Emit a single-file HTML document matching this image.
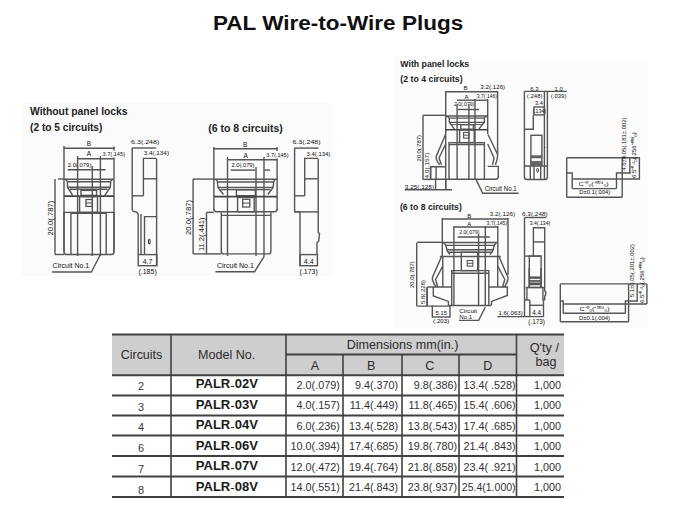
<!DOCTYPE html>
<html><head><meta charset="utf-8"><title>PAL Wire-to-Wire Plugs</title>
<style>
html,body{margin:0;padding:0;background:#fff;}
body{width:675px;height:506px;overflow:hidden;position:relative;font-family:"Liberation Sans",sans-serif;}
h1{position:absolute;left:213px;top:11px;margin:0;font-size:19.6px;line-height:24px;font-weight:700;color:#111;white-space:nowrap;transform-origin:0 0;transform:scaleX(1.149);letter-spacing:0;}
svg{position:absolute;left:0;top:0;}
svg text{font-family:"Liberation Sans",sans-serif;}
</style></head>
<body>
<svg width="675" height="506" viewBox="0 0 675 506">
<rect x="22" y="103" width="310" height="173" fill="#fbfbfb"/>
<rect x="395" y="57" width="253" height="271" fill="#fcfcfc"/>
<text x="30" y="114.7" font-size="10.2" font-weight="700" fill="#222" text-anchor="start" textLength="97.6" lengthAdjust="spacingAndGlyphs">Without panel locks</text>
<text x="30" y="131.3" font-size="10.2" font-weight="700" fill="#222" text-anchor="start" textLength="72.4" lengthAdjust="spacingAndGlyphs">(2 to 5 circuits)</text>
<line x1="63.7" y1="148.2" x2="114.3" y2="148.2" stroke="#555" stroke-width="1.4"/>
<text x="89" y="146.2" font-size="6.5" font-weight="400" fill="#111" text-anchor="middle">B</text>
<line x1="77.5" y1="158.7" x2="114.3" y2="158.7" stroke="#555" stroke-width="1.4"/>
<text x="89" y="156.4" font-size="6.5" font-weight="400" fill="#111" text-anchor="middle">A</text>
<text x="102.5" y="156.2" font-size="6.2" font-weight="400" fill="#111" text-anchor="start" textLength="22.5" lengthAdjust="spacingAndGlyphs">3.7(.145)</text>
<text x="67.7" y="166.6" font-size="6.2" font-weight="400" fill="#111" text-anchor="start" textLength="23.7" lengthAdjust="spacingAndGlyphs">2.0(.079)</text>
<line x1="67.7" y1="169.8" x2="105.6" y2="169.8" stroke="#555" stroke-width="1.4"/>
<line x1="64" y1="146" x2="64" y2="252" stroke="#555" stroke-width="1.4"/>
<line x1="114" y1="146.5" x2="114" y2="150.5" stroke="#555" stroke-width="1.4"/>
<line x1="114" y1="157.5" x2="114" y2="252" stroke="#555" stroke-width="1.4"/>
<line x1="77.6" y1="156" x2="77.6" y2="256" stroke="#555" stroke-width="1.4"/>
<line x1="92.3" y1="166" x2="92.3" y2="256" stroke="#555" stroke-width="1.4"/>
<line x1="100.4" y1="156" x2="100.4" y2="256" stroke="#555" stroke-width="1.4"/>
<line x1="58" y1="179" x2="64" y2="179" stroke="#555" stroke-width="1.4"/>
<line x1="64" y1="179.2" x2="114" y2="179.2" stroke="#555" stroke-width="1.4"/>
<path d="M64.9,179.3 Q67.2,180 67.4,182.1 L67.6,187.2 L72.7,195.4" stroke="#555" stroke-width="1.4" fill="none"/>
<path d="M113.1,179.3 Q110.8,180 110.6,182.1 L110.3,187.2 L104.8,195.4" stroke="#555" stroke-width="1.4" fill="none"/>
<line x1="67.2" y1="181.7" x2="110.8" y2="181.7" stroke="#555" stroke-width="1.4"/>
<line x1="67.6" y1="187.2" x2="110.3" y2="187.2" stroke="#555" stroke-width="1.4"/>
<line x1="70" y1="189.3" x2="107.5" y2="189.3" stroke="#555" stroke-width="1.4"/>
<rect x="81" y="190.4" width="15.6" height="5" rx="0" stroke="#555" stroke-width="1.4" fill="none"/>
<line x1="64" y1="196.1" x2="114" y2="196.1" stroke="#444" stroke-width="1.9"/>
<rect x="79.6" y="196.8" width="17.9" height="15.6" rx="0" stroke="#555" stroke-width="1.4" fill="none"/>
<rect x="86" y="199.5" width="6.4" height="6.9" rx="0" stroke="#555" stroke-width="1.3" fill="none"/>
<line x1="86" y1="203" x2="92.4" y2="203" stroke="#555" stroke-width="1.1"/>
<line x1="64" y1="212.4" x2="114" y2="212.4" stroke="#555" stroke-width="1.4"/>
<path d="M64,212 L64,252 Q64,254.5 66.5,254.5 L111.5,254.5 Q114,254.5 114,252 L114,212" stroke="#555" stroke-width="1.4" fill="none"/>
<path d="M70.9,254.5 L70.9,213.4 L106.2,213.4 L106.2,254.5" stroke="#555" stroke-width="1.4" fill="none"/>
<line x1="55" y1="179" x2="55" y2="254.5" stroke="#555" stroke-width="1.4"/>
<line x1="55" y1="254.5" x2="64" y2="254.5" stroke="#555" stroke-width="1.4"/>
<text x="53" y="235.6" font-size="6.5" font-weight="400" fill="#111" text-anchor="start" textLength="35" lengthAdjust="spacingAndGlyphs" transform="rotate(-90 53 235.6)">20.0(.787)</text>
<text x="52.6" y="268.2" font-size="6.8" font-weight="400" fill="#111" text-anchor="start" textLength="36.6" lengthAdjust="spacingAndGlyphs">Circuit No.1</text>
<path d="M51.9,272 L91.4,272 L100.4,254.5" stroke="#555" stroke-width="1.4" fill="none"/>
<text x="131.1" y="144" font-size="6.2" font-weight="400" fill="#111" text-anchor="start" textLength="28.2" lengthAdjust="spacingAndGlyphs">6.3(.248)</text>
<line x1="131.9" y1="148" x2="156.3" y2="148" stroke="#555" stroke-width="1.4"/>
<text x="143.7" y="155.2" font-size="6.2" font-weight="400" fill="#111" text-anchor="start" textLength="25.3" lengthAdjust="spacingAndGlyphs">3.4(.134)</text>
<path d="M132.2,148 L132.2,209.5 Q132.2,211.2 134,211.5 Q138.2,212 138.2,215 L138.2,254.6" stroke="#555" stroke-width="1.4" fill="none"/>
<line x1="132.2" y1="195.8" x2="143.4" y2="195.8" stroke="#555" stroke-width="1.4"/>
<path d="M143.4,195.8 L143.4,158.4 L156,158.4" stroke="#555" stroke-width="1.4" fill="none"/>
<line x1="143.4" y1="178.8" x2="156" y2="178.8" stroke="#555" stroke-width="1.4"/>
<line x1="156.6" y1="158.4" x2="156.6" y2="265.7" stroke="#555" stroke-width="1.4"/>
<line x1="141" y1="214" x2="141" y2="254.6" stroke="#555" stroke-width="1.4"/>
<path d="M144.5,254.6 L144.5,216.6 L156.6,216.6" stroke="#555" stroke-width="1.4" fill="none"/>
<ellipse cx="149.3" cy="241.5" rx="0.9" ry="2.3" fill="none" stroke="#333" stroke-width="1.1"/>
<rect x="138.2" y="254.6" width="18.7" height="11.1" rx="0" stroke="#555" stroke-width="1.4" fill="none"/>
<text x="147.6" y="263.6" font-size="7" font-weight="400" fill="#111" text-anchor="middle">4.7</text>
<text x="147.6" y="273.6" font-size="7" font-weight="400" fill="#111" text-anchor="middle">(.185)</text>
<text x="208.2" y="131.5" font-size="10.2" font-weight="700" fill="#222" text-anchor="start" textLength="74.6" lengthAdjust="spacingAndGlyphs">(6 to 8 circuits)</text>
<line x1="213" y1="148.8" x2="277.4" y2="148.8" stroke="#555" stroke-width="1.4"/>
<text x="245.1" y="146.6" font-size="6.5" font-weight="400" fill="#111" text-anchor="middle">B</text>
<line x1="227.8" y1="159.8" x2="277.4" y2="159.8" stroke="#555" stroke-width="1.4"/>
<text x="245.6" y="157.6" font-size="6.5" font-weight="400" fill="#111" text-anchor="middle">A</text>
<text x="266.3" y="156.6" font-size="6.2" font-weight="400" fill="#111" text-anchor="start" textLength="22.2" lengthAdjust="spacingAndGlyphs">3.7(.145)</text>
<text x="231.5" y="166.9" font-size="6.2" font-weight="400" fill="#111" text-anchor="start" textLength="22.9" lengthAdjust="spacingAndGlyphs">2.0(.079)</text>
<line x1="230.7" y1="170.1" x2="255.2" y2="170.1" stroke="#555" stroke-width="1.4"/>
<line x1="264" y1="170.1" x2="270" y2="170.1" stroke="#555" stroke-width="1.4"/>
<line x1="213.9" y1="147" x2="213.9" y2="210" stroke="#555" stroke-width="1.4"/>
<line x1="277.1" y1="147" x2="277.1" y2="151" stroke="#555" stroke-width="1.4"/>
<line x1="277.1" y1="158.5" x2="277.1" y2="210" stroke="#555" stroke-width="1.4"/>
<line x1="227.5" y1="157" x2="227.5" y2="256" stroke="#555" stroke-width="1.4"/>
<line x1="256" y1="167" x2="256" y2="256" stroke="#555" stroke-width="1.4"/>
<line x1="264" y1="157" x2="264" y2="256" stroke="#555" stroke-width="1.4"/>
<line x1="193" y1="179.1" x2="213.9" y2="179.1" stroke="#555" stroke-width="1.4"/>
<line x1="213.9" y1="179.2" x2="277.1" y2="179.2" stroke="#555" stroke-width="1.4"/>
<path d="M215.7,179.3 Q217.4,180 217.4,182 L218,187.4 L223.4,194.5" stroke="#555" stroke-width="1.4" fill="none"/>
<path d="M275.5,179.3 Q273.7,180 273.7,182 L273.1,187.4 L267.8,194.5" stroke="#555" stroke-width="1.4" fill="none"/>
<line x1="217.4" y1="182" x2="273.7" y2="182" stroke="#555" stroke-width="1.4"/>
<line x1="218" y1="187.4" x2="273.1" y2="187.4" stroke="#555" stroke-width="1.4"/>
<line x1="220.5" y1="189.5" x2="270.5" y2="189.5" stroke="#555" stroke-width="1.4"/>
<rect x="236.4" y="189.8" width="19" height="5.9" rx="0" stroke="#555" stroke-width="1.4" fill="none"/>
<line x1="213.9" y1="196.6" x2="277.1" y2="196.6" stroke="#444" stroke-width="1.9"/>
<rect x="237.6" y="197.5" width="16.6" height="14.2" rx="0" stroke="#555" stroke-width="1.4" fill="none"/>
<rect x="242.7" y="199.3" width="7.1" height="7.7" rx="0" stroke="#555" stroke-width="1.3" fill="none"/>
<line x1="242.7" y1="203.1" x2="249.8" y2="203.1" stroke="#555" stroke-width="1.1"/>
<path d="M213.9,209 Q213.9,211.7 216.5,211.7 L274.5,211.7 Q277.1,211.7 277.1,209" stroke="#555" stroke-width="1.4" fill="none"/>
<path d="M221.3,212.5 L221.3,251.5 Q221.3,253.9 223.7,253.9 L268.5,253.9 Q270.9,253.9 270.9,251.5 L270.9,212.5" stroke="#555" stroke-width="1.4" fill="none"/>
<line x1="221.3" y1="215.4" x2="270.9" y2="215.4" stroke="#555" stroke-width="1.4"/>
<line x1="193.1" y1="179" x2="193.1" y2="253.9" stroke="#555" stroke-width="1.4"/>
<line x1="193.1" y1="253.9" x2="221.3" y2="253.9" stroke="#555" stroke-width="1.4"/>
<line x1="206.5" y1="212.4" x2="206.5" y2="253.9" stroke="#555" stroke-width="1.4"/>
<line x1="206.5" y1="212.4" x2="213.9" y2="212.4" stroke="#555" stroke-width="1.4"/>
<text x="191.4" y="235" font-size="6.5" font-weight="400" fill="#111" text-anchor="start" textLength="35" lengthAdjust="spacingAndGlyphs" transform="rotate(-90 191.4 235)">20.0(.787)</text>
<text x="203.8" y="251" font-size="6.5" font-weight="400" fill="#111" text-anchor="start" textLength="33.5" lengthAdjust="spacingAndGlyphs" transform="rotate(-90 203.8 251)">11.2(.441)</text>
<text x="216.9" y="267.8" font-size="6.8" font-weight="400" fill="#111" text-anchor="start" textLength="37" lengthAdjust="spacingAndGlyphs">Circuit No.1</text>
<path d="M215.4,271.7 L254.6,271.7 L264.3,256.1" stroke="#555" stroke-width="1.4" fill="none"/>
<text x="292.4" y="144" font-size="6.2" font-weight="400" fill="#111" text-anchor="start" textLength="28.2" lengthAdjust="spacingAndGlyphs">6.3(.248)</text>
<line x1="294.2" y1="148.1" x2="318.4" y2="148.1" stroke="#555" stroke-width="1.4"/>
<text x="306.5" y="155.9" font-size="6.2" font-weight="400" fill="#111" text-anchor="start" textLength="23.8" lengthAdjust="spacingAndGlyphs">3.4(.134)</text>
<path d="M294.6,148 L294.6,211.9 L300,211.9 L300,265.7" stroke="#555" stroke-width="1.4" fill="none"/>
<line x1="294.6" y1="195.8" x2="304.7" y2="195.8" stroke="#555" stroke-width="1.4"/>
<path d="M304.7,195.8 L304.7,158.4 L317.9,158.4" stroke="#555" stroke-width="1.4" fill="none"/>
<line x1="304.7" y1="178.8" x2="317.9" y2="178.8" stroke="#555" stroke-width="1.4"/>
<line x1="294.6" y1="211.9" x2="318.5" y2="211.9" stroke="#555" stroke-width="1.4"/>
<path d="M318.2,158.4 L318.2,232.4 L319.5,233.5 L318.8,241 L317,242.7 L317,254.6" stroke="#555" stroke-width="1.4" fill="none"/>
<rect x="300" y="254.6" width="17.4" height="11.1" rx="0" stroke="#555" stroke-width="1.4" fill="none"/>
<text x="308.7" y="263.6" font-size="7" font-weight="400" fill="#111" text-anchor="middle">4.4</text>
<text x="308.7" y="273.6" font-size="7" font-weight="400" fill="#111" text-anchor="middle">(.173)</text>
<text x="400.3" y="67.4" font-size="8.8" font-weight="700" fill="#222" text-anchor="start" textLength="68.8" lengthAdjust="spacingAndGlyphs">With panel locks</text>
<text x="400.3" y="81.8" font-size="8.8" font-weight="700" fill="#222" text-anchor="start" textLength="62.3" lengthAdjust="spacingAndGlyphs">(2 to 4 circuits)</text>
<line x1="445.3" y1="91.8" x2="497.5" y2="91.8" stroke="#555" stroke-width="1.4"/>
<text x="465.4" y="90.2" font-size="6" font-weight="400" fill="#111" text-anchor="middle">B</text>
<text x="480.3" y="89.4" font-size="6" font-weight="400" fill="#111" text-anchor="start" textLength="24.9" lengthAdjust="spacingAndGlyphs">3.2(.126)</text>
<line x1="456.8" y1="100.2" x2="488" y2="100.2" stroke="#555" stroke-width="1.4"/>
<text x="466.6" y="98.9" font-size="6" font-weight="400" fill="#111" text-anchor="middle">A</text>
<text x="476.8" y="98.2" font-size="5.6" font-weight="400" fill="#111" text-anchor="start" textLength="20.2" lengthAdjust="spacingAndGlyphs">3.7(.146)</text>
<text x="454" y="106.3" font-size="5.6" font-weight="400" fill="#111" text-anchor="start" textLength="20.2" lengthAdjust="spacingAndGlyphs">2.0(.079)</text>
<line x1="457.8" y1="109.5" x2="479.1" y2="109.5" stroke="#555" stroke-width="1.4"/>
<line x1="445.7" y1="91" x2="445.7" y2="190" stroke="#555" stroke-width="1.4"/>
<line x1="497.6" y1="91" x2="497.6" y2="154.4" stroke="#555" stroke-width="1.4"/>
<line x1="487.7" y1="99" x2="487.7" y2="134" stroke="#555" stroke-width="1.4"/>
<line x1="457.1" y1="104" x2="457.1" y2="179" stroke="#555" stroke-width="1.4"/>
<line x1="468.9" y1="104" x2="468.9" y2="179" stroke="#555" stroke-width="1.4"/>
<line x1="475" y1="99" x2="475" y2="179" stroke="#555" stroke-width="1.4"/>
<line x1="423" y1="115.3" x2="445.7" y2="115.3" stroke="#555" stroke-width="1.4"/>
<line x1="445.7" y1="116" x2="487.7" y2="116" stroke="#555" stroke-width="1.6"/>
<path d="M446.8,116.3 Q449,117 449.2,118.5 L449.4,122.2 L453,127.1 L454.3,129.2" stroke="#555" stroke-width="1.4" fill="none"/>
<path d="M486.6,116.3 Q484.4,117 484.3,118.5 L484.4,122.2 L480.3,127.1 L479,129.2" stroke="#555" stroke-width="1.4" fill="none"/>
<line x1="449.2" y1="118.1" x2="484.4" y2="118.1" stroke="#555" stroke-width="1.4"/>
<line x1="449.4" y1="122.4" x2="484.4" y2="122.4" stroke="#555" stroke-width="1.4"/>
<line x1="451" y1="124.5" x2="482.5" y2="124.5" stroke="#555" stroke-width="0.9"/>
<rect x="460.8" y="124.7" width="12.6" height="4.5" rx="0" stroke="#555" stroke-width="1.4" fill="none"/>
<line x1="445.7" y1="129.8" x2="487.7" y2="129.8" stroke="#444" stroke-width="1.5"/>
<rect x="459.6" y="130" width="14.6" height="12.6" rx="0" stroke="#555" stroke-width="1.4" fill="none"/>
<rect x="463.6" y="132.4" width="5.4" height="5.7" rx="0" stroke="#555" stroke-width="1.1" fill="none"/>
<line x1="463.6" y1="135.2" x2="469" y2="135.2" stroke="#555" stroke-width="1"/>
<path d="M445.5,134.5 L436.1,156.7 Q435.8,160 439.8,164.8" stroke="#555" stroke-width="1.4" fill="none"/>
<path d="M445.7,144 L439,158 L441.5,164.8" stroke="#555" stroke-width="1.4" fill="none"/>
<path d="M488,134.5 L497.6,154.4 Q497.8,158 495.4,164.8" stroke="#555" stroke-width="1.4" fill="none"/>
<path d="M487.7,144 L494,158 L492.5,164.8" stroke="#555" stroke-width="1.4" fill="none"/>
<path d="M449,178.9 L449,142.6 L484.4,142.6 L484.4,178.9" stroke="#555" stroke-width="1.4" fill="none"/>
<line x1="449" y1="144.5" x2="484.4" y2="144.5" stroke="#555" stroke-width="1.4"/>
<path d="M445.7,166.8 L430.6,166.8 L430.6,179.2 L495.5,179.2 Q498.3,179.2 498.3,176.5 L498.3,166.4 L487.7,166.4" stroke="#555" stroke-width="1.4" fill="none"/>
<line x1="436.1" y1="166.8" x2="436.1" y2="179" stroke="#555" stroke-width="1.4"/>
<line x1="423" y1="115.3" x2="423" y2="179.4" stroke="#555" stroke-width="1.4"/>
<line x1="423" y1="179.4" x2="430.9" y2="179.4" stroke="#555" stroke-width="1.4"/>
<text x="420.8" y="161.6" font-size="6" font-weight="400" fill="#111" text-anchor="start" textLength="26.6" lengthAdjust="spacingAndGlyphs" transform="rotate(-90 420.8 161.6)">20.0(.787)</text>
<line x1="430.6" y1="167" x2="430.6" y2="179.4" stroke="#555" stroke-width="1.4"/>
<text x="429.4" y="178.5" font-size="6" font-weight="400" fill="#111" text-anchor="start" textLength="25.8" lengthAdjust="spacingAndGlyphs" transform="rotate(-90 429.4 178.5)">4.0(.157)</text>
<line x1="435.6" y1="179.4" x2="435.6" y2="190" stroke="#555" stroke-width="1.4"/>
<line x1="445.7" y1="179.4" x2="445.7" y2="190" stroke="#555" stroke-width="1.4"/>
<text x="404.8" y="188.6" font-size="6" font-weight="400" fill="#111" text-anchor="start" textLength="29.3" lengthAdjust="spacingAndGlyphs">3.25(.128)</text>
<line x1="404.8" y1="189.8" x2="452" y2="189.8" stroke="#555" stroke-width="1.4"/>
<path d="M476,179.4 L482.7,193.3 L518.7,193.3" stroke="#555" stroke-width="1.4" fill="none"/>
<text x="484.7" y="190.5" font-size="6.4" font-weight="400" fill="#111" text-anchor="start" textLength="32" lengthAdjust="spacingAndGlyphs">Circuit No.1</text>
<text x="534.3" y="90.9" font-size="6" font-weight="400" fill="#111" text-anchor="middle">6.3</text>
<text x="558.6" y="90.9" font-size="6" font-weight="400" fill="#111" text-anchor="middle">1.0</text>
<line x1="524.3" y1="91.4" x2="566.9" y2="91.4" stroke="#555" stroke-width="1.4"/>
<text x="534.7" y="98.4" font-size="6" font-weight="400" fill="#111" text-anchor="middle">(.248)</text>
<text x="558.6" y="98.4" font-size="6" font-weight="400" fill="#111" text-anchor="middle">(.039)</text>
<path d="M524.4,91.4 L524.4,177 Q524.4,179.5 527,179.5 L545,179.5 Q547.4,179.5 547.4,177 L547.4,91.4" stroke="#555" stroke-width="1.4" fill="none"/>
<line x1="544.4" y1="91.4" x2="544.4" y2="166" stroke="#555" stroke-width="1.4"/>
<text x="538.9" y="104.6" font-size="5.6" font-weight="400" fill="#111" text-anchor="middle">3.4</text>
<rect x="534" y="107" width="10.4" height="7.9" rx="0" stroke="#555" stroke-width="1.4" fill="none"/>
<text x="539.2" y="112.8" font-size="5.2" font-weight="400" fill="#111" text-anchor="middle">(.134)</text>
<path d="M533.3,114.9 L533.3,129.2 L524.4,129.2" stroke="#555" stroke-width="1.4" fill="none"/>
<rect x="530.9" y="135.3" width="11" height="29.5" rx="0" stroke="#555" stroke-width="1.4" fill="none"/>
<rect x="530.9" y="155.6" width="11" height="2.4" rx="0" stroke="#555" stroke-width="0.5" fill="#666"/>
<rect x="530.9" y="161.2" width="11" height="3" rx="0" stroke="#555" stroke-width="0.5" fill="#666"/>
<line x1="525" y1="166" x2="547.4" y2="166" stroke="#555" stroke-width="1.5"/>
<line x1="530.3" y1="166" x2="530.3" y2="179.5" stroke="#555" stroke-width="1.4"/>
<line x1="534" y1="166" x2="534" y2="179.5" stroke="#555" stroke-width="1.4"/>
<line x1="540.7" y1="166" x2="540.7" y2="179.5" stroke="#555" stroke-width="1.4"/>
<line x1="544.4" y1="166" x2="544.4" y2="179.5" stroke="#555" stroke-width="1.4"/>
<ellipse cx="537.6" cy="170.3" rx="0.9" ry="2" fill="none" stroke="#2a2a2a" stroke-width="0.9"/>
<line x1="544.4" y1="146.5" x2="545.4" y2="147.5" stroke="#555" stroke-width="0.9"/>
<line x1="566.7" y1="157.8" x2="640" y2="157.8" stroke="#555" stroke-width="1.4"/>
<line x1="566.7" y1="157.8" x2="566.7" y2="197.2" stroke="#555" stroke-width="1.4"/>
<line x1="622.2" y1="157.8" x2="622.2" y2="197.2" stroke="#555" stroke-width="1.4"/>
<path d="M566.7,173 L572.2,173 L572.2,188.6" stroke="#555" stroke-width="1.4" fill="none"/>
<path d="M631,173 L616.5,173 L616.5,188.6" stroke="#555" stroke-width="1.4" fill="none"/>
<line x1="572.2" y1="179" x2="640" y2="179" stroke="#555" stroke-width="1.4"/>
<line x1="572.2" y1="188.6" x2="616.5" y2="188.6" stroke="#555" stroke-width="1.4"/>
<line x1="566.7" y1="197.2" x2="622.2" y2="197.2" stroke="#555" stroke-width="1.4"/>
<line x1="629.8" y1="157.8" x2="629.8" y2="173" stroke="#555" stroke-width="1.4"/>
<line x1="639.4" y1="157.8" x2="639.4" y2="179" stroke="#555" stroke-width="1.4"/>
<text x="593.7" y="186.3" font-size="6.2" font-weight="400" fill="#111" text-anchor="middle" textLength="30" lengthAdjust="spacingAndGlyphs">C⁺⁰₀(⁺⁰⁰⁴₀)</text>
<text x="594.8" y="194.3" font-size="6.2" font-weight="400" fill="#111" text-anchor="middle" textLength="31" lengthAdjust="spacingAndGlyphs">D±0.1(.004)</text>
<text x="626.1" y="170.7" font-size="6" font-weight="400" fill="#111" text-anchor="start" textLength="53.3" lengthAdjust="spacingAndGlyphs" transform="rotate(-90 626.1 170.7)">4.6±0.05(.181±.002)</text>
<text x="636.4" y="178.1" font-size="6" font-weight="400" fill="#111" text-anchor="start" textLength="45.9" lengthAdjust="spacingAndGlyphs" transform="rotate(-90 636.4 178.1)">6.5⁺⁰·²₀(.256⁺⁰⁰⁸₀)</text>
<text x="399.9" y="210.4" font-size="8.8" font-weight="700" fill="#222" text-anchor="start" textLength="61.9" lengthAdjust="spacingAndGlyphs">(6 to 8 circuits)</text>
<line x1="442.3" y1="219" x2="508" y2="219" stroke="#555" stroke-width="1.4"/>
<text x="469.2" y="217.6" font-size="6" font-weight="400" fill="#111" text-anchor="middle">B</text>
<text x="489.8" y="215.8" font-size="6" font-weight="400" fill="#111" text-anchor="start" textLength="25.3" lengthAdjust="spacingAndGlyphs">3.2(.126)</text>
<line x1="453.7" y1="227" x2="497.8" y2="227" stroke="#555" stroke-width="1.4"/>
<text x="469.2" y="226.2" font-size="6" font-weight="400" fill="#111" text-anchor="middle">A</text>
<text x="486.6" y="224.9" font-size="5.6" font-weight="400" fill="#111" text-anchor="start" textLength="20.6" lengthAdjust="spacingAndGlyphs">3.7(.145)</text>
<text x="459.2" y="234" font-size="5.6" font-weight="400" fill="#111" text-anchor="start" textLength="20.2" lengthAdjust="spacingAndGlyphs">2.0(.079)</text>
<line x1="457.6" y1="237" x2="489.8" y2="237" stroke="#555" stroke-width="1.4"/>
<line x1="442.3" y1="218" x2="442.3" y2="256.5" stroke="#555" stroke-width="1.4"/>
<line x1="497.8" y1="226" x2="497.8" y2="256.5" stroke="#555" stroke-width="1.4"/>
<line x1="508" y1="218" x2="508" y2="275" stroke="#555" stroke-width="1.4"/>
<line x1="453.9" y1="226" x2="453.9" y2="305.5" stroke="#555" stroke-width="1.4"/>
<line x1="478.6" y1="234" x2="478.6" y2="305.5" stroke="#555" stroke-width="1.4"/>
<line x1="485.3" y1="226" x2="485.3" y2="305.5" stroke="#555" stroke-width="1.4"/>
<line x1="417" y1="242.3" x2="442.3" y2="242.3" stroke="#555" stroke-width="1.4"/>
<line x1="442.3" y1="242.5" x2="497.7" y2="242.5" stroke="#555" stroke-width="1.4"/>
<path d="M443.5,242.8 Q445.8,244 446.2,247 L447.5,251.5 L450,254.5" stroke="#555" stroke-width="1.4" fill="none"/>
<path d="M496.5,242.8 Q494.2,244 493.8,247 L492.5,251.5 L490,254.5" stroke="#555" stroke-width="1.4" fill="none"/>
<line x1="445.5" y1="245.4" x2="495" y2="245.4" stroke="#555" stroke-width="1.4"/>
<line x1="446.5" y1="249.8" x2="493.5" y2="249.8" stroke="#555" stroke-width="1.6"/>
<line x1="448" y1="252.3" x2="492" y2="252.3" stroke="#555" stroke-width="1.4"/>
<rect x="461.3" y="252.3" width="16.4" height="18.3" rx="0" stroke="#555" stroke-width="1.4" fill="none"/>
<rect x="467.2" y="260.5" width="5.6" height="5.6" rx="0" stroke="#555" stroke-width="1.1" fill="none"/>
<line x1="467.2" y1="263.3" x2="472.8" y2="263.3" stroke="#555" stroke-width="1"/>
<line x1="439.8" y1="256.5" x2="500.7" y2="256.5" stroke="#555" stroke-width="1.3"/>
<path d="M441.3,257 L432.4,277.5 Q432,281 436.1,287" stroke="#555" stroke-width="1.4" fill="none"/>
<path d="M442.8,266.2 L435.6,279.5 L437.8,287" stroke="#555" stroke-width="1.4" fill="none"/>
<path d="M499.2,257 L508,277.5 Q508.4,281 504.5,287" stroke="#555" stroke-width="1.4" fill="none"/>
<path d="M497.7,266.2 L504.8,279.5 L502.6,287" stroke="#555" stroke-width="1.4" fill="none"/>
<line x1="442.8" y1="256.5" x2="442.8" y2="287" stroke="#555" stroke-width="1.4"/>
<line x1="497.7" y1="256.5" x2="497.7" y2="287" stroke="#555" stroke-width="1.4"/>
<path d="M451.7,305.5 L451.7,270.6 L488.8,270.6 L488.8,305.5" stroke="#555" stroke-width="1.4" fill="none"/>
<line x1="451.7" y1="273.2" x2="488.8" y2="273.2" stroke="#555" stroke-width="1.4"/>
<path d="M427.2,287 L451.7,287 M488.8,287 L507.3,287 L507.3,295.5 L491.5,301.4 L491.5,305.5 M433.3,287 L433.3,296 L448.4,301.4 L448.4,305.5" stroke="#555" stroke-width="1.4" fill="none"/>
<line x1="448.7" y1="305.5" x2="491" y2="305.5" stroke="#555" stroke-width="1.4"/>
<line x1="427.2" y1="287" x2="427.2" y2="306.1" stroke="#555" stroke-width="1.4"/>
<line x1="416.7" y1="242.7" x2="416.7" y2="306.1" stroke="#555" stroke-width="1.4"/>
<line x1="416.7" y1="306.1" x2="449.7" y2="306.1" stroke="#555" stroke-width="1.4"/>
<text x="414" y="288" font-size="6" font-weight="400" fill="#111" text-anchor="start" textLength="26.7" lengthAdjust="spacingAndGlyphs" transform="rotate(-90 414 288)">20.0(.787)</text>
<text x="424.6" y="304" font-size="6" font-weight="400" fill="#111" text-anchor="start" textLength="24" lengthAdjust="spacingAndGlyphs" transform="rotate(-90 424.6 304)">5.8(.228)</text>
<line x1="427" y1="287.6" x2="427" y2="306.1" stroke="#555" stroke-width="1.4"/>
<line x1="432.3" y1="305.5" x2="432.3" y2="317.4" stroke="#555" stroke-width="1.4"/>
<line x1="450" y1="306" x2="450" y2="317.4" stroke="#555" stroke-width="1.4"/>
<line x1="432.3" y1="317" x2="450" y2="317" stroke="#555" stroke-width="1.4"/>
<text x="441.2" y="314.6" font-size="6" font-weight="400" fill="#111" text-anchor="middle" textLength="11.4" lengthAdjust="spacingAndGlyphs">5.15</text>
<text x="441.2" y="323.4" font-size="6.2" font-weight="400" fill="#111" text-anchor="middle">(.203)</text>
<text x="459.3" y="313.1" font-size="6.2" font-weight="400" fill="#111" text-anchor="start" textLength="17.7" lengthAdjust="spacingAndGlyphs">Circuit</text>
<text x="459.3" y="318.9" font-size="6.2" font-weight="400" fill="#111" text-anchor="start" textLength="13" lengthAdjust="spacingAndGlyphs">No.1</text>
<path d="M459,320.4 L478.7,320.4 L485.2,307.2" stroke="#555" stroke-width="1.4" fill="none"/>
<text x="498.4" y="315" font-size="6.2" font-weight="400" fill="#111" text-anchor="start" textLength="24.3" lengthAdjust="spacingAndGlyphs">1.6(.063)</text>
<line x1="497.4" y1="316.6" x2="543.5" y2="316.6" stroke="#555" stroke-width="1.4"/>
<text x="522" y="216.3" font-size="6" font-weight="400" fill="#111" text-anchor="start" textLength="25.7" lengthAdjust="spacingAndGlyphs">6.3(.248)</text>
<line x1="524.6" y1="217.5" x2="546.4" y2="217.5" stroke="#555" stroke-width="1.4"/>
<text x="529.7" y="224.8" font-size="6" font-weight="400" fill="#111" text-anchor="start" textLength="20.6" lengthAdjust="spacingAndGlyphs">3.4(.134)</text>
<line x1="524.5" y1="217.5" x2="524.5" y2="317" stroke="#555" stroke-width="1.4"/>
<path d="M533.4,256.1 L533.4,227.7 L544.7,227.7 L544.7,291 L545.8,292 L545.6,295 L544.7,296 L544.7,300" stroke="#555" stroke-width="1.4" fill="none"/>
<line x1="533.4" y1="241.9" x2="544.7" y2="241.9" stroke="#555" stroke-width="1.4"/>
<line x1="524.5" y1="256.1" x2="541.1" y2="256.1" stroke="#555" stroke-width="1.4"/>
<rect x="529.3" y="256.1" width="11.8" height="31.4" rx="0" stroke="#555" stroke-width="1.4" fill="none"/>
<rect x="529.3" y="276.8" width="11.8" height="1.8" rx="0" stroke="#555" stroke-width="0.5" fill="#555"/>
<rect x="529.3" y="280.2" width="11.8" height="1.4" rx="0" stroke="#555" stroke-width="0.5" fill="#555"/>
<rect x="529.3" y="282.8" width="11.8" height="2.2" rx="0" stroke="#555" stroke-width="0.5" fill="#555"/>
<line x1="529.3" y1="268" x2="529.3" y2="287.5" stroke="#555" stroke-width="1.6"/>
<line x1="541.1" y1="268" x2="541.1" y2="287.5" stroke="#555" stroke-width="1.6"/>
<line x1="525.7" y1="287.5" x2="544.7" y2="287.5" stroke="#555" stroke-width="1.4"/>
<line x1="526.9" y1="287.5" x2="526.9" y2="300" stroke="#555" stroke-width="1.4"/>
<line x1="542.9" y1="287.5" x2="542.9" y2="300" stroke="#555" stroke-width="1.4"/>
<line x1="524.5" y1="300" x2="529.8" y2="300" stroke="#555" stroke-width="1.4"/>
<line x1="542.5" y1="300" x2="544.7" y2="300" stroke="#555" stroke-width="1.4"/>
<line x1="529.8" y1="300" x2="529.8" y2="317" stroke="#555" stroke-width="1.4"/>
<line x1="543.5" y1="300" x2="543.5" y2="317" stroke="#555" stroke-width="1.4"/>
<line x1="529.8" y1="305.3" x2="543.5" y2="305.3" stroke="#555" stroke-width="1.4"/>
<text x="536.6" y="315.2" font-size="6.4" font-weight="400" fill="#111" text-anchor="middle">4.4</text>
<text x="536.6" y="323.6" font-size="6.4" font-weight="400" fill="#111" text-anchor="middle">(.173)</text>
<line x1="560.3" y1="283.9" x2="646.9" y2="283.9" stroke="#555" stroke-width="1.4"/>
<line x1="560.3" y1="283.9" x2="560.3" y2="321.8" stroke="#555" stroke-width="1.4"/>
<line x1="628.6" y1="283.9" x2="628.6" y2="321.8" stroke="#555" stroke-width="1.4"/>
<path d="M560.3,301 L563.2,301 L563.2,313.3" stroke="#555" stroke-width="1.4" fill="none"/>
<path d="M638,301 L625.4,301 L625.4,313.3" stroke="#555" stroke-width="1.4" fill="none"/>
<line x1="563.2" y1="304" x2="646.9" y2="304" stroke="#555" stroke-width="1.4"/>
<line x1="563.2" y1="313.3" x2="625.4" y2="313.3" stroke="#555" stroke-width="1.4"/>
<line x1="560.3" y1="321.8" x2="628.6" y2="321.8" stroke="#555" stroke-width="1.4"/>
<line x1="637.2" y1="283.9" x2="637.2" y2="301" stroke="#555" stroke-width="1.4"/>
<line x1="646.9" y1="283.9" x2="646.9" y2="304" stroke="#555" stroke-width="1.4"/>
<text x="594.5" y="311.2" font-size="6.2" font-weight="400" fill="#111" text-anchor="middle" textLength="30" lengthAdjust="spacingAndGlyphs">C⁺⁰₀(⁺⁰⁰⁴₀)</text>
<text x="594.5" y="319.8" font-size="6.2" font-weight="400" fill="#111" text-anchor="middle" textLength="31" lengthAdjust="spacingAndGlyphs">D±0.1(.004)</text>
<text x="634.2" y="297.2" font-size="6" font-weight="400" fill="#111" text-anchor="start" textLength="53.3" lengthAdjust="spacingAndGlyphs" transform="rotate(-90 634.2 297.2)">5.1±0.05(.201±.002)</text>
<text x="643.9" y="303.1" font-size="6" font-weight="400" fill="#111" text-anchor="start" textLength="45.9" lengthAdjust="spacingAndGlyphs" transform="rotate(-90 643.9 303.1)">6.5⁺⁰·²₀(.256⁺⁰⁰⁸₀)</text>
<rect x="112" y="334.5" width="452" height="40.5" fill="#cecece"/>
<line x1="112" y1="334.5" x2="564" y2="334.5" stroke="#404040" stroke-width="2.2"/>
<line x1="286" y1="354.5" x2="516.5" y2="354.5" stroke="#404040" stroke-width="2"/>
<line x1="112" y1="375.2" x2="564" y2="375.2" stroke="#404040" stroke-width="2"/>
<line x1="112" y1="395.6" x2="564" y2="395.6" stroke="#404040" stroke-width="2"/>
<line x1="112" y1="415.4" x2="564" y2="415.4" stroke="#404040" stroke-width="2"/>
<line x1="112" y1="435.6" x2="564" y2="435.6" stroke="#404040" stroke-width="2"/>
<line x1="112" y1="456" x2="564" y2="456" stroke="#404040" stroke-width="2"/>
<line x1="112" y1="476.4" x2="564" y2="476.4" stroke="#404040" stroke-width="2"/>
<line x1="112" y1="497" x2="564" y2="497" stroke="#404040" stroke-width="2"/>
<line x1="171" y1="334.5" x2="171" y2="497" stroke="#404040" stroke-width="1.6"/>
<line x1="286" y1="334.5" x2="286" y2="497" stroke="#404040" stroke-width="1.6"/>
<line x1="516.5" y1="334.5" x2="516.5" y2="497" stroke="#404040" stroke-width="1.6"/>
<line x1="343" y1="354.5" x2="343" y2="497" stroke="#404040" stroke-width="1.6"/>
<line x1="402" y1="354.5" x2="402" y2="497" stroke="#404040" stroke-width="1.6"/>
<line x1="459" y1="354.5" x2="459" y2="497" stroke="#404040" stroke-width="1.6"/>
<text x="141.5" y="359" font-size="12.5" font-weight="400" fill="#2a2a2a" text-anchor="middle" textLength="41.6" lengthAdjust="spacingAndGlyphs">Circuits</text>
<text x="226.6" y="359" font-size="12.5" font-weight="400" fill="#2a2a2a" text-anchor="middle" textLength="57.3" lengthAdjust="spacingAndGlyphs">Model No.</text>
<text x="402.5" y="348.6" font-size="12.5" font-weight="400" fill="#2a2a2a" text-anchor="middle" textLength="111.7" lengthAdjust="spacingAndGlyphs">Dimensions mm(in.)</text>
<text x="315" y="370.4" font-size="12.5" font-weight="400" fill="#2a2a2a" text-anchor="middle">A</text>
<text x="371.2" y="370.4" font-size="12.5" font-weight="400" fill="#2a2a2a" text-anchor="middle">B</text>
<text x="429.8" y="370.4" font-size="12.5" font-weight="400" fill="#2a2a2a" text-anchor="middle">C</text>
<text x="487.7" y="370.4" font-size="12.5" font-weight="400" fill="#2a2a2a" text-anchor="middle">D</text>
<text x="559" y="352.1" font-size="12.5" font-weight="400" fill="#2a2a2a" text-anchor="end" textLength="29.3" lengthAdjust="spacingAndGlyphs">Q'ty /</text>
<text x="556.4" y="365.5" font-size="12.5" font-weight="400" fill="#2a2a2a" text-anchor="end">bag</text>
<text x="141" y="389.8" font-size="11" font-weight="400" fill="#3a3a3a" text-anchor="middle">2</text>
<text x="226.8" y="388.3" font-size="13" font-weight="700" fill="#1a1a1a" text-anchor="middle" textLength="62.1" lengthAdjust="spacingAndGlyphs">PALR<tspan font-weight="400" dy="1.2">-</tspan><tspan dy="-1.2">02V</tspan></text>
<text x="339.8" y="388.8" font-size="10.8" font-weight="400" fill="#303030" text-anchor="end">2.0(.079)</text>
<text x="398.2" y="388.8" font-size="10.8" font-weight="400" fill="#303030" text-anchor="end">9.4(.370)</text>
<text x="457" y="388.8" font-size="10.8" font-weight="400" fill="#303030" text-anchor="end">9.8(.386)</text>
<text x="515.6" y="388.8" font-size="10.8" font-weight="400" fill="#303030" text-anchor="end">13.4( .528)</text>
<text x="561" y="388.8" font-size="10.8" font-weight="400" fill="#303030" text-anchor="end">1,000</text>
<text x="141" y="410.54" font-size="11" font-weight="400" fill="#3a3a3a" text-anchor="middle">3</text>
<text x="226.8" y="408.8" font-size="13" font-weight="700" fill="#1a1a1a" text-anchor="middle" textLength="62.1" lengthAdjust="spacingAndGlyphs">PALR<tspan font-weight="400" dy="1.2">-</tspan><tspan dy="-1.2">03V</tspan></text>
<text x="339.8" y="409.32" font-size="10.8" font-weight="400" fill="#303030" text-anchor="end">4.0(.157)</text>
<text x="398.2" y="409.32" font-size="10.8" font-weight="400" fill="#303030" text-anchor="end">11.4(.449)</text>
<text x="457" y="409.32" font-size="10.8" font-weight="400" fill="#303030" text-anchor="end">11.8(.465)</text>
<text x="515.6" y="409.32" font-size="10.8" font-weight="400" fill="#303030" text-anchor="end">15.4( .606)</text>
<text x="561" y="409.32" font-size="10.8" font-weight="400" fill="#303030" text-anchor="end">1,000</text>
<text x="141" y="431.28" font-size="11" font-weight="400" fill="#3a3a3a" text-anchor="middle">4</text>
<text x="226.8" y="429.3" font-size="13" font-weight="700" fill="#1a1a1a" text-anchor="middle" textLength="62.1" lengthAdjust="spacingAndGlyphs">PALR<tspan font-weight="400" dy="1.2">-</tspan><tspan dy="-1.2">04V</tspan></text>
<text x="339.8" y="429.84" font-size="10.8" font-weight="400" fill="#303030" text-anchor="end">6.0(.236)</text>
<text x="398.2" y="429.84" font-size="10.8" font-weight="400" fill="#303030" text-anchor="end">13.4(.528)</text>
<text x="457" y="429.84" font-size="10.8" font-weight="400" fill="#303030" text-anchor="end">13.8(.543)</text>
<text x="515.6" y="429.84" font-size="10.8" font-weight="400" fill="#303030" text-anchor="end">17.4( .685)</text>
<text x="561" y="429.84" font-size="10.8" font-weight="400" fill="#303030" text-anchor="end">1,000</text>
<text x="141" y="452.02" font-size="11" font-weight="400" fill="#3a3a3a" text-anchor="middle">6</text>
<text x="226.8" y="449.8" font-size="13" font-weight="700" fill="#1a1a1a" text-anchor="middle" textLength="62.1" lengthAdjust="spacingAndGlyphs">PALR<tspan font-weight="400" dy="1.2">-</tspan><tspan dy="-1.2">06V</tspan></text>
<text x="339.8" y="450.36" font-size="10.8" font-weight="400" fill="#303030" text-anchor="end">10.0(.394)</text>
<text x="398.2" y="450.36" font-size="10.8" font-weight="400" fill="#303030" text-anchor="end">17.4(.685)</text>
<text x="457" y="450.36" font-size="10.8" font-weight="400" fill="#303030" text-anchor="end">19.8(.780)</text>
<text x="515.6" y="450.36" font-size="10.8" font-weight="400" fill="#303030" text-anchor="end">21.4( .843)</text>
<text x="561" y="450.36" font-size="10.8" font-weight="400" fill="#303030" text-anchor="end">1,000</text>
<text x="141" y="472.76" font-size="11" font-weight="400" fill="#3a3a3a" text-anchor="middle">7</text>
<text x="226.8" y="470.3" font-size="13" font-weight="700" fill="#1a1a1a" text-anchor="middle" textLength="62.1" lengthAdjust="spacingAndGlyphs">PALR<tspan font-weight="400" dy="1.2">-</tspan><tspan dy="-1.2">07V</tspan></text>
<text x="339.8" y="470.88" font-size="10.8" font-weight="400" fill="#303030" text-anchor="end">12.0(.472)</text>
<text x="398.2" y="470.88" font-size="10.8" font-weight="400" fill="#303030" text-anchor="end">19.4(.764)</text>
<text x="457" y="470.88" font-size="10.8" font-weight="400" fill="#303030" text-anchor="end">21.8(.858)</text>
<text x="515.6" y="470.88" font-size="10.8" font-weight="400" fill="#303030" text-anchor="end">23.4( .921)</text>
<text x="561" y="470.88" font-size="10.8" font-weight="400" fill="#303030" text-anchor="end">1,000</text>
<text x="141" y="493.5" font-size="11" font-weight="400" fill="#3a3a3a" text-anchor="middle">8</text>
<text x="226.8" y="490.8" font-size="13" font-weight="700" fill="#1a1a1a" text-anchor="middle" textLength="62.1" lengthAdjust="spacingAndGlyphs">PALR<tspan font-weight="400" dy="1.2">-</tspan><tspan dy="-1.2">08V</tspan></text>
<text x="339.8" y="491.4" font-size="10.8" font-weight="400" fill="#303030" text-anchor="end">14.0(.551)</text>
<text x="398.2" y="491.4" font-size="10.8" font-weight="400" fill="#303030" text-anchor="end">21.4(.843)</text>
<text x="457" y="491.4" font-size="10.8" font-weight="400" fill="#303030" text-anchor="end">23.8(.937)</text>
<text x="515.6" y="491.4" font-size="10.8" font-weight="400" fill="#303030" text-anchor="end" textLength="53.8" lengthAdjust="spacingAndGlyphs">25.4(1.000)</text>
<text x="561" y="491.4" font-size="10.8" font-weight="400" fill="#303030" text-anchor="end">1,000</text>
</svg>
<h1>PAL Wire-to-Wire Plugs</h1>
</body></html>
